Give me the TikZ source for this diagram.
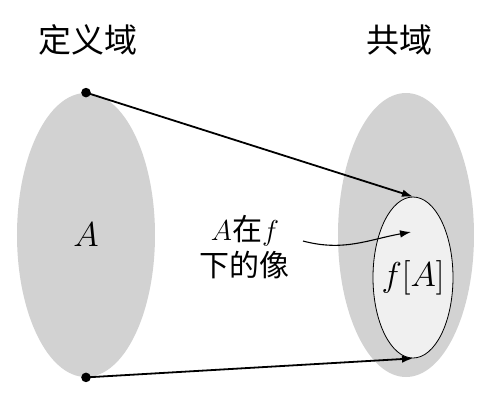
\documentclass[tikz,border=0pt]{standalone}
\usepackage{amsmath}
\usepackage{fontspec}
\newfontfamily\cjk{Noto Sans CJK SC}
\usetikzlibrary{arrows.meta,positioning,shapes.geometric,calc}

\begin{document}
\begin{tikzpicture}[
  x=0.5pt, y=-0.5pt,
  >={Latex[length=5.5pt,width=3.8pt]},
  every node/.style={font=\fontsize{15}{18}\selectfont},
  setArea/.style={ellipse, fill=gray!35, inner sep=0pt, minimum width=69pt, minimum height=142pt},
  imageArea/.style={ellipse, draw=black, fill=gray!12, thin, inner sep=0pt, minimum width=40pt, minimum height=80.5pt},
  setTitle/.style={font=\cjk\fontsize{16.5}{19}\selectfont},
  mathLbl/.style={font=\fontsize{17}{20}\selectfont},
  mapArrow/.style={->, line width=0.9pt},
  ptDot/.style={circle, fill=black, inner sep=0pt, minimum size=4.8pt}
]
  \useasboundingbox (0,0) rectangle (484,403);

  \node[setArea] (dom) at (86,235) {};
  \node[setArea, minimum width=68pt] (cod) at (406,235) {};
  \node[imageArea] (img) at (413,277.5) {};

  \node[mathLbl] at (dom.center) {$A$};
  \node[mathLbl] at (img.center) {$f[A]$};

  \node[setTitle] (domT) at (88,40) {定义域};
  \node[setTitle] (codT) at (400,40) {共域};

  \node[ptDot] (top) at (dom.north) {};
  \node[ptDot] (bot) at (dom.south) {};

  \draw[mapArrow] (top.center) -- (img.north);
  \draw[mapArrow] (bot.center) -- (img.south);

  \node[align=center, inner sep=1pt] (lbl) at (245,247)
    {$A$\cjk 在$f$\\\cjk 下的像};
  \coordinate (lblEnd) at (303,241);
  \coordinate (imgPt) at (411,232);
  \draw[->, line width=0.55pt] (lblEnd) to[out=-15, in=190] (imgPt);
\end{tikzpicture}
\end{document}
